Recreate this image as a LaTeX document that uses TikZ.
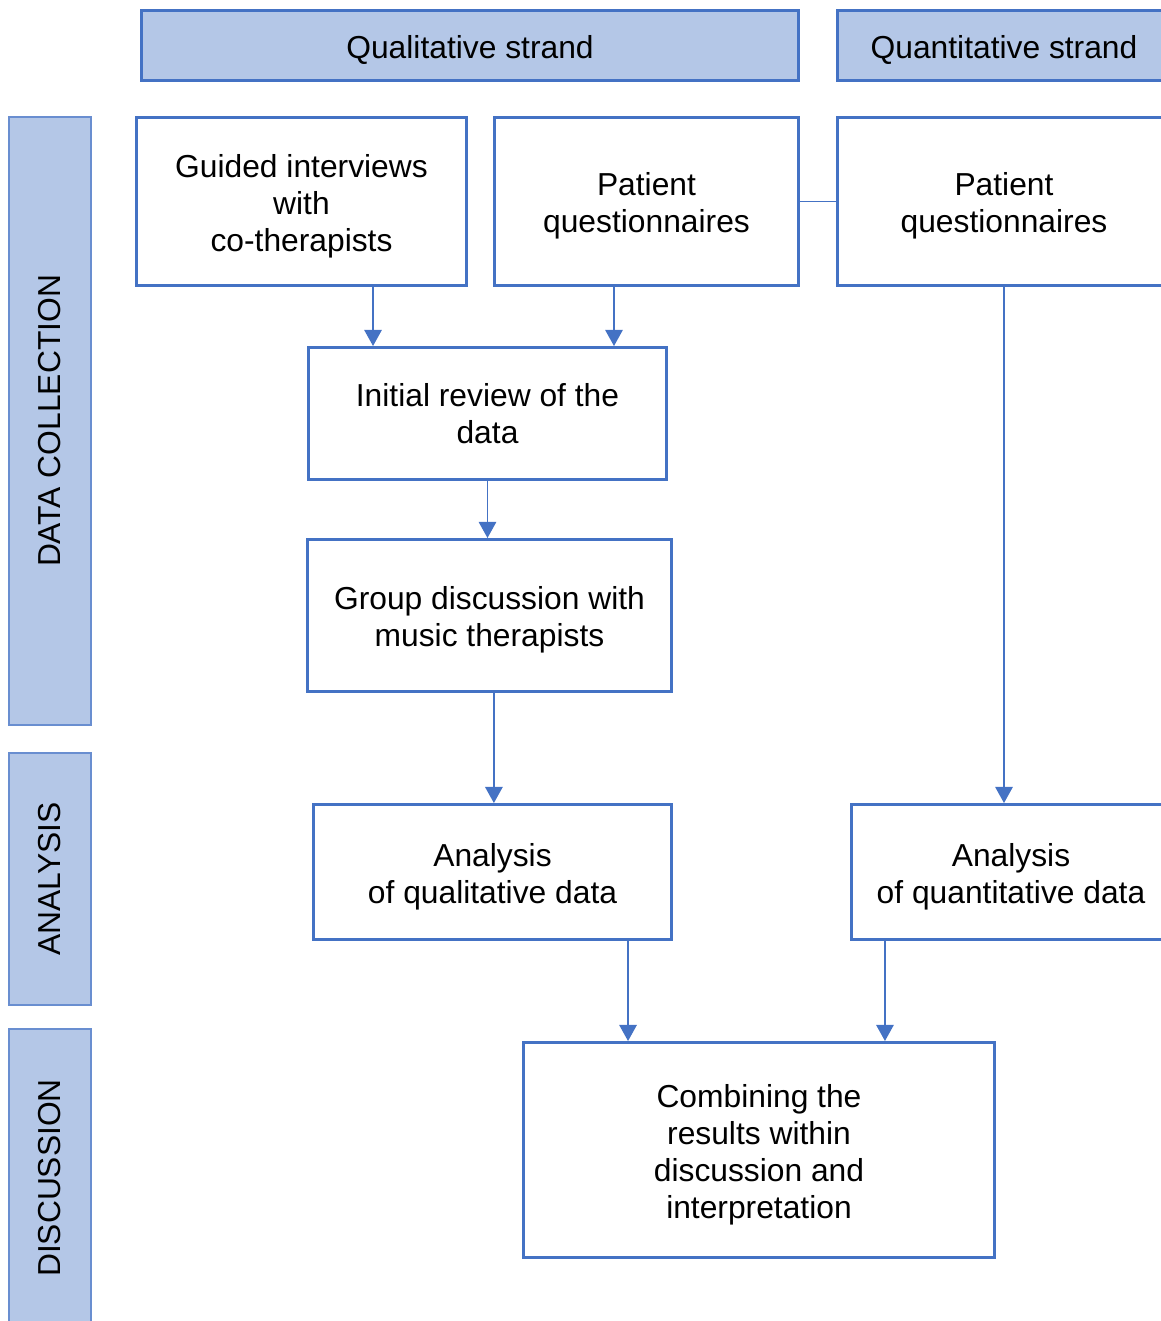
\documentclass[tikz,border=0pt]{standalone}
\usepackage{fontspec}
\setmainfont{Liberation Sans}
\usepackage{xcolor}
\usepackage{tikz}
\usetikzlibrary{positioning,arrows.meta,calc}
\definecolor{boxblue}{RGB}{68,114,196}
\definecolor{headfill}{RGB}{180,199,231}
\newcommand{\boxfont}{\fontsize{22.6}{26.3}\selectfont}
\newcommand{\toprule}{\rule{0pt}{22.6pt}}
\tikzset{
  head/.style  = {draw=boxblue, fill=headfill, line width=2.1pt, inner sep=0pt, font=\boxfont, align=center},
  side/.style  = {draw=boxblue!80, fill=headfill, line width=1pt, inner sep=0pt, font=\boxfont, rotate=90, minimum height=2.05cm},
  box/.style   = {draw=boxblue, fill=white, line width=2.1pt, inner sep=0pt, font=\boxfont, align=center},
  flow/.style  = {-{Triangle[length=11.5pt,width=12.5pt]}, line width=1pt, draw=boxblue, fill=boxblue},
}

\begin{document}
\begin{tikzpicture}[x=0.025cm, y=-0.025cm]
  \useasboundingbox (0,0) rectangle (1161,1321);
  \clip (0,0) rectangle (1161,1321);
  % strand headers
  \node[head, minimum width=16.43cm, minimum height=1.75cm] (qual) at (470,45.5) {\toprule Qualitative strand};
  \node[head, minimum width=8.33cm, minimum height=1.75cm] (quant) at (1004,45.5) {\toprule Quantitative strand};
  % phase labels
  \node[side, minimum width=15.2cm] (datacoll) at (50,421) {DATA COLLECTION};
  \node[side, minimum width=6.3cm] (analysis) at (50,879) {ANALYSIS};
  \node[side, minimum width=7.45cm] (discussion) at (50,1178) {DISCUSSION};
  % data collection
  \node[box, minimum width=8.25cm, minimum height=4.2cm] (guided) at (301.5,201.5) {\toprule Guided interviews\\with\\co-therapists};
  \node[box, minimum width=7.6cm, minimum height=4.2cm] (patL) at (646.5,201.5) {\toprule Patient\\questionnaires};
  \node[box, minimum width=8.33cm, minimum height=4.2cm] (patR) at (1004,201.5) {\toprule Patient\\questionnaires};
  \node[box, minimum width=8.95cm, minimum height=3.3cm] (review) at (487.5,413.5) {Initial review of the\\data};
  \node[box, minimum width=9.1cm, minimum height=3.8cm] (group) at (489.5,615.5) {\toprule Group discussion with\\music therapists};
  % analysis
  \node[box, minimum width=8.95cm, minimum height=3.375cm] (anaqual) at (492.5,872) {\toprule Analysis\\of qualitative data};
  \node[box, minimum width=7.975cm, minimum height=3.375cm] (anaquant) at (1011,872) {\toprule Analysis\\of quantitative data};
  % discussion
  \node[box, minimum width=11.775cm, minimum height=5.375cm] (combine) at (759,1150) {\toprule Combining the\\results within\\discussion and\\interpretation};

  \draw[line width=1pt, draw=boxblue] (patL.east) -- (patR.west);
  \draw[flow] ([xshift=1.7875cm]guided.south) -- ([xshift=1.7875cm]guided.south |- review.north);
  \draw[flow] ([xshift=-0.8125cm]patL.south) -- ([xshift=-0.8125cm]patL.south |- review.north);
  \draw[flow] (review.south) -- (review.south |- group.north);
  \draw[flow] ([xshift=0.11cm]group.south) -- ([xshift=0.11cm]group.south |- anaqual.north);
  \draw[flow] (patR.south) -- (patR.south |- anaquant.north);
  \draw[flow] ([xshift=3.3875cm]anaqual.south) -- ([xshift=3.3875cm]anaqual.south |- combine.north);
  \draw[flow] ([xshift=-3.15cm]anaquant.south) -- ([xshift=-3.15cm]anaquant.south |- combine.north);
\end{tikzpicture}
\end{document}
